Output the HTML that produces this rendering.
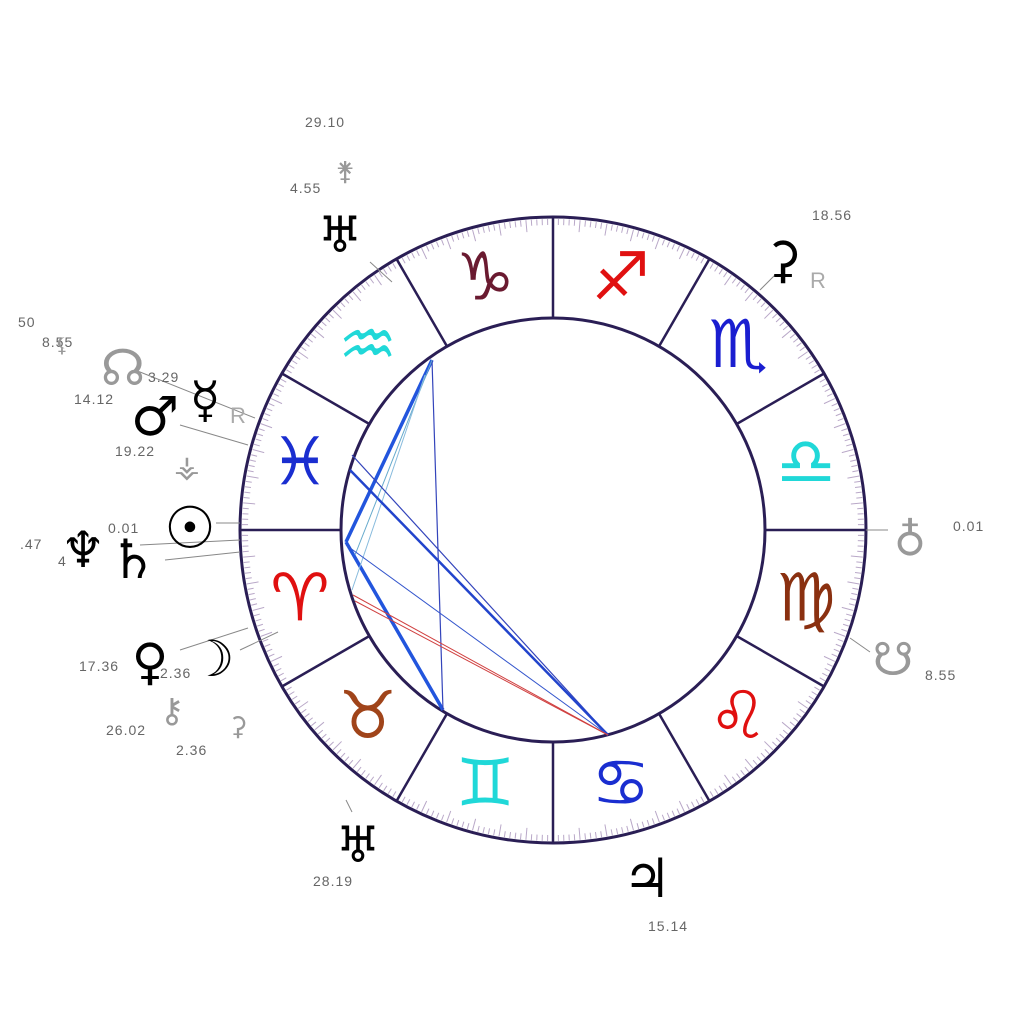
<!DOCTYPE html>
<html><head><meta charset="utf-8"><style>
html,body{margin:0;padding:0;background:#fff;width:1024px;height:1024px;overflow:hidden}
svg text{font-family:"DejaVu Sans","Liberation Sans",sans-serif}
.num{font-family:"Liberation Sans",sans-serif;font-size:14px;fill:#666;letter-spacing:1px}
.pl{font-size:50px;fill:#000}
.gp{font-size:30px;fill:#999}
.sg{font-size:66px;text-anchor:middle;dominant-baseline:central}
</style></head><body>
<svg id="s" width="1024" height="1024" viewBox="0 0 1024 1024">
<g id="ticks"></g>
<circle cx="553" cy="530" r="313" fill="none" stroke="#2a1e55" stroke-width="3"/>
<circle cx="553" cy="530" r="212" fill="none" stroke="#2a1e55" stroke-width="3"/>
<g id="div" stroke="#2a1e55" stroke-width="2.5"></g>
<g id="signs"></g>
<g fill="none">
<line x1="432" y1="360" x2="346" y2="542" stroke="#2255dd" stroke-width="3.5"/>
<line x1="346" y1="542" x2="443" y2="710" stroke="#2255dd" stroke-width="3.5"/>
<line x1="432" y1="360" x2="443" y2="710" stroke="#3344bb" stroke-width="1.2"/>
<line x1="432" y1="360" x2="355" y2="555" stroke="#66aacc" stroke-width="1"/>
<line x1="425" y1="375" x2="352" y2="590" stroke="#88bbdd" stroke-width="1"/>
<line x1="352" y1="455" x2="608" y2="735" stroke="#3344bb" stroke-width="1.2"/>
<line x1="350" y1="470" x2="608" y2="735" stroke="#2244cc" stroke-width="2.5"/>
<line x1="346" y1="545" x2="608" y2="735" stroke="#3355cc" stroke-width="1"/>
<line x1="353" y1="595" x2="608" y2="735" stroke="#d04040" stroke-width="1"/>
<line x1="355" y1="601" x2="608" y2="735" stroke="#d04040" stroke-width="1"/>
</g>
<g stroke="#888" stroke-width="1">
<line x1="370" y1="262" x2="392" y2="282"/>
<line x1="180" y1="425" x2="248" y2="445"/>
<line x1="135" y1="370" x2="255" y2="418"/>
<line x1="216" y1="523" x2="240" y2="523"/>
<line x1="140" y1="545" x2="240" y2="540"/>
<line x1="165" y1="560" x2="240" y2="552"/>
<line x1="180" y1="650" x2="248" y2="628"/>
<line x1="240" y1="650" x2="278" y2="632"/>
<line x1="866" y1="530" x2="888" y2="530"/>
<line x1="850" y1="638" x2="870" y2="652"/>
<line x1="760" y1="290" x2="775" y2="275"/>
<line x1="346" y1="800" x2="352" y2="812"/>
</g>
<text x="340" y="252" class="pl" text-anchor="middle">♅</text>
<text x="345" y="180" class="gp" text-anchor="middle" style="font-size:26px">⚵</text>
<text class="num" x="305" y="127">29.10</text>
<text class="num" x="290" y="193">4.55</text>
<text x="783" y="277" class="pl" text-anchor="middle">⚳</text>
<text class="num" x="812" y="220">18.56</text>
<text x="810" y="288" style="font-size:22px;fill:#aaa;font-family:'Liberation Sans'">R</text>
<text x="910" y="555" class="gp" text-anchor="middle" style="font-size:44px">♁</text>
<text class="num" x="953" y="531">0.01</text>
<text x="893" y="675" class="gp" text-anchor="middle" style="font-size:46px">☋</text>
<text class="num" x="925" y="680">8.55</text>
<text x="647" y="897" class="pl" text-anchor="middle" style="font-size:54px">♃</text>
<text class="num" x="648" y="931">15.14</text>
<text x="358" y="862" class="pl" text-anchor="middle">♅</text>
<text class="num" x="313" y="886">28.19</text>
<text x="123" y="385" class="gp" text-anchor="middle" style="font-size:50px">☊</text>
<text class="num" x="18" y="327">50</text>
<text class="num" x="42" y="347">8.55</text>
<text x="62" y="352" class="gp" text-anchor="middle" style="font-size:20px">⚸</text>
<text class="num" x="148" y="382">3.29</text>
<text x="205" y="417" class="pl" text-anchor="middle">☿</text>
<text class="num" x="74" y="404">14.12</text>
<text x="155" y="435" class="pl" text-anchor="middle" style="font-size:54px">♂</text>
<text x="230" y="423" style="font-size:22px;fill:#aaa;font-family:'Liberation Sans'">R</text>
<text class="num" x="115" y="456">19.22</text>
<text x="187" y="477" class="gp" text-anchor="middle">⚶</text>
<text x="190" y="548" class="pl" text-anchor="middle" style="font-size:58px">☉</text>
<text class="num" x="108" y="533">0.01</text>
<text x="83" y="567" class="pl" text-anchor="middle">♆</text>
<text class="num" x="20" y="549">.47</text>
<text class="num" x="58" y="566">4</text>
<text x="133" y="578" class="pl" text-anchor="middle" style="font-size:54px">♄</text>
<text x="150" y="679" class="pl" text-anchor="middle">♀</text>
<text x="212" y="676" class="pl" text-anchor="middle">☽</text>
<text class="num" x="79" y="671">17.36</text>
<text class="num" x="160" y="678">2.36</text>
<text x="172" y="722" class="gp" text-anchor="middle" style="font-size:34px">⚷</text>
<text class="num" x="106" y="735">26.02</text>
<text x="238" y="735" class="gp" text-anchor="middle" style="font-size:26px">⚳</text>
<text class="num" x="176" y="755">2.36</text>
</svg>
<script>
var NS="http://www.w3.org/2000/svg",cx=553,cy=530;
function el(t,a,p){var e=document.createElementNS(NS,t);for(var k in a)e.setAttribute(k,a[k]);p.appendChild(e);return e;}
var tk=document.getElementById("ticks");
for(var d=0;d<360;d++){var a=d*Math.PI/180,len=d%5==0?12:6;
el("line",{x1:cx+Math.cos(a)*311,y1:cy-Math.sin(a)*311,x2:cx+Math.cos(a)*(311-len),y2:cy-Math.sin(a)*(311-len),stroke:"#b9a8c8","stroke-width":1},tk);}
var dv=document.getElementById("div");
for(var i=0;i<12;i++){var a=i*30*Math.PI/180;
el("line",{x1:cx+Math.cos(a)*212,y1:cy-Math.sin(a)*212,x2:cx+Math.cos(a)*313,y2:cy-Math.sin(a)*313},dv);}
var signs=[["♈","#e01010",195],["♉","#a0441a",225],["♊","#20d8d8",255],["♋","#1a2ed0",285],["♌","#e01010",315],["♍","#8a3010",345],["♎","#20d8d8",15],["♏","#1a1ed0",45],["♐","#e01010",75],["♑","#6a1a30",105],["♒","#20d8d8",135],["♓","#1a2ed0",165]];
var sg=document.getElementById("signs");
signs.forEach(function(s){var a=s[2]*Math.PI/180;var t=el("text",{x:cx+Math.cos(a)*262,y:cy-Math.sin(a)*262,fill:s[1],"class":"sg"},sg);t.textContent=s[0];});
</script>
</body></html>
